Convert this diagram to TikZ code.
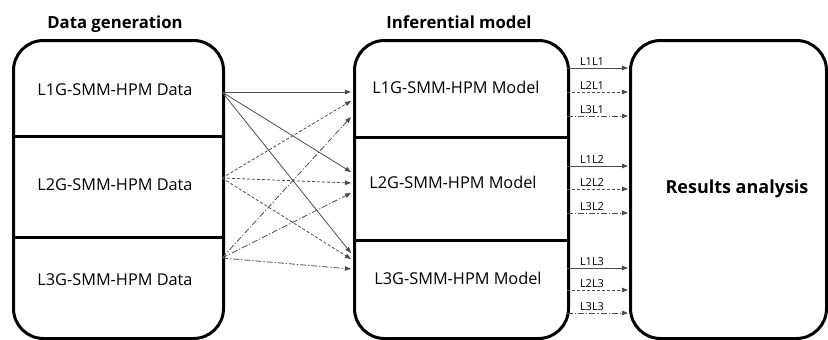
\documentclass[tikz,border=0pt]{standalone}
\usepackage{fontspec}
\setmainfont{Open Sans}
\usetikzlibrary{arrows.meta}
\begin{document}
\begin{tikzpicture}[x=1pt,y=-1pt,
  box/.style={draw, line width=3pt, rounded corners=30pt, inner sep=0pt, anchor=north west},
  divider/.style={line width=3pt},
  title/.style={font=\fontsize{16.7}{19}\selectfont\bfseries, anchor=base},
  restitle/.style={font=\fontsize{18}{20}\selectfont\bfseries, anchor=base},
  cell/.style={font=\fontsize{16.3}{18}\selectfont, anchor=base},
  lab/.style={font=\fontsize{11}{12}\selectfont, anchor=base, inner sep=0pt},
  conn/.style={draw=black!70, line width=0.8pt, -{Triangle[length=6pt,width=4.5pt]}},
  lone/.style={conn},
  ltwo/.style={conn, dash pattern=on 3pt off 2pt},
  lthree/.style={conn, dash pattern=on 6pt off 2pt on 1.2pt off 2pt},
]
\useasboundingbox (0,0) rectangle (828,340);

% boxes
\node[box, minimum width=210pt, minimum height=298pt] (D) at (12,39) {};
\node[box, minimum width=214pt, minimum height=298pt] (M) at (353,39) {};
\node[box, minimum width=196pt, minimum height=298pt] (R) at (629,39) {};

% dividers
\draw[divider] (D.west |- 0,136) -- (D.east |- 0,136);
\draw[divider] (D.west |- 0,237) -- (D.east |- 0,237);
\draw[divider] (M.west |- 0,137) -- (M.east |- 0,137);
\draw[divider] (M.west |- 0,240) -- (M.east |- 0,240);

% titles
\node[title] (tD) at (115,28) {Data generation};
\node[title] (tM) at (459,28) {Inferential model};

% cell texts
\node[cell] (d1) at (115,95) {L1G-SMM-HPM Data};
\node[cell] (d2) at (115,190) {L2G-SMM-HPM Data};
\node[cell] (d3) at (115,285) {L3G-SMM-HPM Data};
\node[cell] (m1) at (456,93) {L1G-SMM-HPM Model};
\node[cell] (m2) at (453,188) {L2G-SMM-HPM Model};
\node[cell] (m3) at (458,284) {L3G-SMM-HPM Model};
\node[restitle] (res) at (737,193) {Results analysis};

% source and target points
\coordinate (s1) at (222,92);
\coordinate (s2) at (222,178);
\coordinate (s3) at (222,258);
\coordinate (t11) at (351,92);
\coordinate (t21) at (351,101);
\coordinate (t31) at (351,117);
\coordinate (t12) at (351,172);
\coordinate (t22) at (351,183);
\coordinate (t32) at (351,193);
\coordinate (t13) at (351,253);
\coordinate (t23) at (351,259);
\coordinate (t33) at (351,269);

\draw[lone] (s1) -- (t11);
\draw[lone] (s1) -- (t12);
\draw[lone] (s1) -- (t13);
\draw[ltwo] (s2) -- (t21);
\draw[ltwo] (s2) -- (t22);
\draw[ltwo] (s2) -- (t23);
\draw[lthree] (s3) -- (t31);
\draw[lthree] (s3) -- (t32);
\draw[lthree] (s3) -- (t33);

% output arrows
\foreach \y/\st/\t [count=\i] in {
  68/lone/L1L1, 92/ltwo/L2L1, 116/lthree/L3L1,
  166/lone/L1L2, 189/ltwo/L2L2, 213/lthree/L3L2,
  268/lone/L1L3, 290/ltwo/L2L3, 313/lthree/L3L3} {
  \coordinate (o\i) at (567,\y);
  \coordinate (e\i) at (628,\y);
  \draw[\st] (o\i) -- (e\i);
  \node[lab] (l\i) at (592,\y-3) {\t};
}
\end{tikzpicture}
\end{document}
